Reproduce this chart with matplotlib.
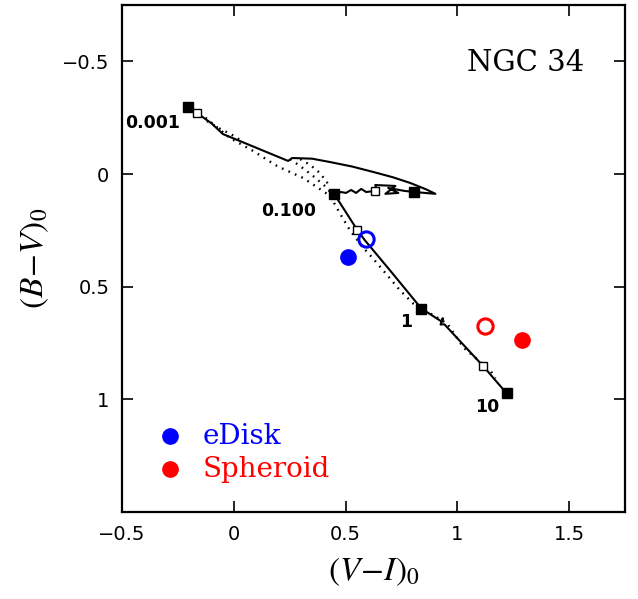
import numpy as np
import matplotlib.pyplot as plt

plt.rcParams['mathtext.fontset'] = 'stix'

# solid model track (V-I, B-V)
track_x = [-0.204, -0.164, -0.100, -0.048, 0.060, 0.243, 0.261, 0.350, 0.431, 0.530, 0.624, 0.710, 0.790, 0.860, 0.902,
           0.808, 0.763, 0.691, 0.736, 0.678, 0.723, 0.633, 0.642, 0.632,
           0.592, 0.570, 0.547, 0.525, 0.502, 0.480, 0.449,
           0.552, 0.588, 0.700, 0.839, 0.930, 0.935, 0.925, 0.942, 1.117, 1.220]
track_y = [-0.296, -0.270, -0.225, -0.177, -0.133, -0.058, -0.071, -0.068, -0.053, -0.033, -0.009, 0.014, 0.040, 0.068, 0.088,
           0.080, 0.075, 0.062, 0.084, 0.088, 0.053, 0.049, 0.080, 0.075,
           0.080, 0.066, 0.084, 0.071, 0.084, 0.080, 0.088,
           0.248, 0.296, 0.429, 0.597, 0.655, 0.640, 0.668, 0.667, 0.854, 0.973]

# dotted tracks
dot_a_x = [-0.151, -0.016, 0.087, 0.194, 0.311, 0.431, 0.476, 0.521, 0.579, 0.624, 0.745,
           0.803, 0.879, 0.955, 1.027, 1.148, 1.170]
dot_a_y = [-0.270, -0.159, -0.102, -0.035, 0.018, 0.097, 0.177, 0.252, 0.327, 0.376, 0.518,
           0.575, 0.619, 0.664, 0.770, 0.872, 0.907]
dot_b_x = [0.252, 0.297, 0.355, 0.418, 0.440]
dot_b_y = [-0.066, -0.035, 0.009, 0.062, 0.093]
dot_c_x = [0.297, 0.342, 0.386, 0.422]
dot_c_y = [-0.066, -0.040, -0.004, 0.044]
dot_d_x = [-0.120, -0.060, -0.010, 0.030]
dot_d_y = [-0.235, -0.200, -0.175, -0.150]

filled_sq_x = [-0.204, 0.449, 0.808, 0.839, 1.220]
filled_sq_y = [-0.296, 0.088, 0.080, 0.597, 0.973]
open_sq_x = [-0.164, 0.552, 0.632, 1.117]
open_sq_y = [-0.270, 0.248, 0.075, 0.854]

# age labels
age_labels = ['0.001', '0.100', '1', '10']
age_x = [-0.365, 0.244, 0.769, 1.132]
age_y = [-0.226, 0.164, 0.659, 1.035]

# galaxy components
edisk_x, edisk_y = 0.513, 0.367
edisk_open_x, edisk_open_y = 0.590, 0.288
sph_x, sph_y = 1.289, 0.735
sph_open_x, sph_open_y = 1.123, 0.673

fig = plt.figure(figsize=(6.38, 5.99), dpi=100)
ax = fig.add_axes([122/638, 1 - 512/599, 503/638, 507/599])

ax.plot(track_x, track_y, color='black', lw=1.5, zorder=3)
for dx, dy in [(dot_a_x, dot_a_y), (dot_b_x, dot_b_y), (dot_c_x, dot_c_y), (dot_d_x, dot_d_y)]:
    ax.plot(dx, dy, color='black', lw=1.7, dashes=(0.7, 2.3), zorder=2)

ax.plot(filled_sq_x, filled_sq_y, 's', color='black', ms=6.5, zorder=4)
ax.plot(open_sq_x, open_sq_y, 's', mfc='white', mec='black', mew=1.0, ms=5.5, zorder=4)

for lab, x, y in zip(age_labels, age_x, age_y):
    ax.text(x, y, lab, fontsize=12.5, ha='center', va='center', family='DejaVu Sans', fontweight='semibold')

ax.plot(edisk_x, edisk_y, 'o', color='blue', ms=11, zorder=5)
ax.plot(edisk_open_x, edisk_open_y, 'o', mfc='none', mec='blue', mew=2.2, ms=11, zorder=5)
ax.plot(sph_x, sph_y, 'o', color='red', ms=11, zorder=5)
ax.plot(sph_open_x, sph_open_y, 'o', mfc='none', mec='red', mew=2.2, ms=11, zorder=5)

# legend drawn by hand
ax.plot(-0.285, 1.164, 'o', color='blue', ms=11)
ax.plot(-0.285, 1.310, 'o', color='red', ms=11)
ax.text(-0.141, 1.164, 'eDisk', color='blue', fontsize=20, family='DejaVu Serif', va='center')
ax.text(-0.141, 1.310, 'Spheroid', color='red', fontsize=20, family='DejaVu Serif', va='center')

ax.text(1.567, -0.491, 'NGC 34', fontsize=21, family='DejaVu Serif', ha='right', va='center')

ax.set_xlim(-0.5, 1.75)
ax.set_ylim(1.5, -0.75)
ax.set_xticks([-0.5, 0, 0.5, 1, 1.5])
ax.set_xticklabels(['\u22120.5', '0', '0.5', '1', '1.5'])
ax.set_yticks([-0.5, 0, 0.5, 1])
ax.set_yticklabels(['\u22120.5', '0', '0.5', '1'])
ax.tick_params(direction='in', length=8, width=1.2, top=True, right=True, labelsize=14, pad=9)
for s in ax.spines.values():
    s.set_linewidth(1.6)

ax.set_xlabel(r'$(V\!-\!I)_0$', fontsize=24, labelpad=8)
ax.set_ylabel(r'$(B\!-\!V)_0$', fontsize=24, labelpad=8)

plt.savefig('out.png', dpi=100)
